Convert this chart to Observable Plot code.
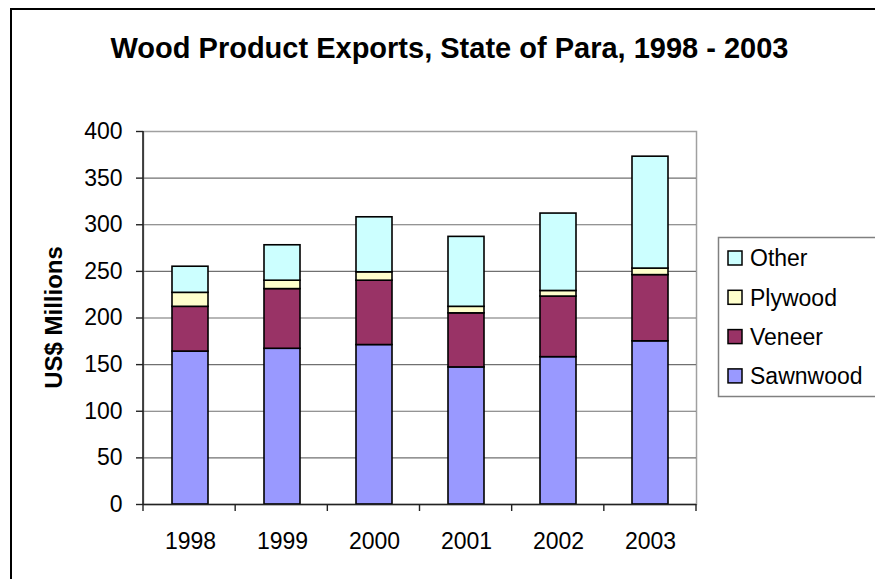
<!DOCTYPE html>
<html>
<head>
<meta charset="utf-8">
<script src="https://cdn.jsdelivr.net/npm/d3@7"></script>
<script src="https://cdn.jsdelivr.net/npm/@observablehq/plot@0.6"></script>
<style>
  html, body { margin: 0; padding: 0; background: white; }
</style>
</head>
<body>
<div id="chart"></div>
<script>
const years = ["1998", "1999", "2000", "2001", "2002", "2003"];
const sawnwood = [164, 167, 171, 147, 158, 175];
const veneer = [48, 64, 69, 58, 65, 71];
const plywood = [15, 9, 9, 7, 6, 7];
const other = [28, 38, 59, 75, 83, 120];
const series = ["Sawnwood", "Veneer", "Plywood", "Other"];
const seriesColors = ["#9999FF", "#993366", "#FFFFCC", "#CCFFFF"];
const yTicks = [0, 50, 100, 150, 200, 250, 300, 350, 400];
const titleText = "Wood Product Exports, State of Para, 1998 - 2003";
const yLabel = "US$ Millions";

const values = [sawnwood, veneer, plywood, other];
const data = years.flatMap((yr, i) => series.map((s, j) => ({year: yr, type: s, value: values[j][i]})));

const FONT = "'Liberation Sans', Arial, Helvetica, sans-serif";
const TXT = 23;

const plot = Plot.plot({
  width: 875,
  height: 579,
  marginLeft: 143,
  marginRight: 179,
  marginTop: 131,
  marginBottom: 75,
  style: {fontFamily: FONT, fontSize: TXT + "px", background: "white", color: "black", overflow: "visible"},
  x: {domain: years, paddingInner: 0.61, paddingOuter: 0.305, label: null, axis: null},
  y: {domain: [0, 400], label: null, axis: null},
  color: {domain: series, range: seriesColors},
  marks: [
    Plot.frame({stroke: "#a0a0a0", strokeWidth: 1.5}),
    Plot.ruleY(yTicks.filter(d => d > 0 && d < 400), {stroke: "#707070", strokeWidth: 1.2}),
    Plot.barY(data, {x: "year", y: "value", fill: "type", stroke: "black", strokeWidth: 1.6, order: series}),
    Plot.ruleY([0], {stroke: "#222", strokeWidth: 1.6}),
    Plot.axisY({ticks: yTicks, tickSize: 7, tickPadding: 14, label: null, tickFormat: d => String(d),
      fontSize: TXT, stroke: "#222", strokeWidth: 1.4}),
    Plot.axisX({tickSize: 0, tickPadding: 28, label: null, fontSize: TXT})
  ]
});

const svg = d3.select(plot);
const xs = plot.scale("x");
const ys = plot.scale("y");
const cs = plot.scale("color");
const x0 = xs.range[0], x1 = xs.range[1];
const yTop = ys.apply(400), yBot = ys.apply(0);

// left axis line
svg.append("line").attr("x1", x0).attr("x2", x0).attr("y1", yTop).attr("y2", yBot)
  .attr("stroke", "#222").attr("stroke-width", 1.6);
// category boundary ticks
const n = years.length;
for (let i = 0; i <= n; i++) {
  const xx = x0 + i * (x1 - x0) / n;
  svg.append("line").attr("x1", xx).attr("x2", xx).attr("y1", yBot).attr("y2", yBot + 7)
    .attr("stroke", "#222").attr("stroke-width", 1.4);
}

// outer chart border
svg.append("rect").attr("x", 11).attr("y", 9).attr("width", 900).attr("height", 600)
  .attr("fill", "none").attr("stroke", "black").attr("stroke-width", 2);

// title
svg.append("text").attr("x", 449.5).attr("y", 58).attr("text-anchor", "middle")
  .attr("font-family", FONT).attr("font-weight", "bold").attr("font-size", 29)
  .attr("fill", "black").text(titleText);

// y label
svg.append("text").attr("transform", `translate(62,${(yTop + yBot) / 2}) rotate(-90)`)
  .attr("text-anchor", "middle")
  .attr("font-family", FONT).attr("font-weight", "bold").attr("font-size", 24)
  .attr("fill", "black").text(yLabel);

// legend
const lg = svg.append("g");
lg.append("rect").attr("x", 718.5).attr("y", 237.5).attr("width", 200).attr("height", 159)
  .attr("fill", "white").attr("stroke", "#808080").attr("stroke-width", 1.5);
const legendOrder = cs.domain.slice().reverse();
legendOrder.forEach((s, i) => {
  const cy = 258 + i * 39.3;
  lg.append("rect").attr("x", 728).attr("y", cy - 7).attr("width", 14).attr("height", 14)
    .attr("fill", cs.apply(s)).attr("stroke", "black").attr("stroke-width", 1.5);
  lg.append("text").attr("x", 750).attr("y", cy).attr("dy", "0.36em").attr("text-anchor", "start")
    .attr("font-family", FONT).attr("font-size", TXT).attr("fill", "black").text(s);
});

document.getElementById("chart").appendChild(plot);
</script>
</body>
</html>
